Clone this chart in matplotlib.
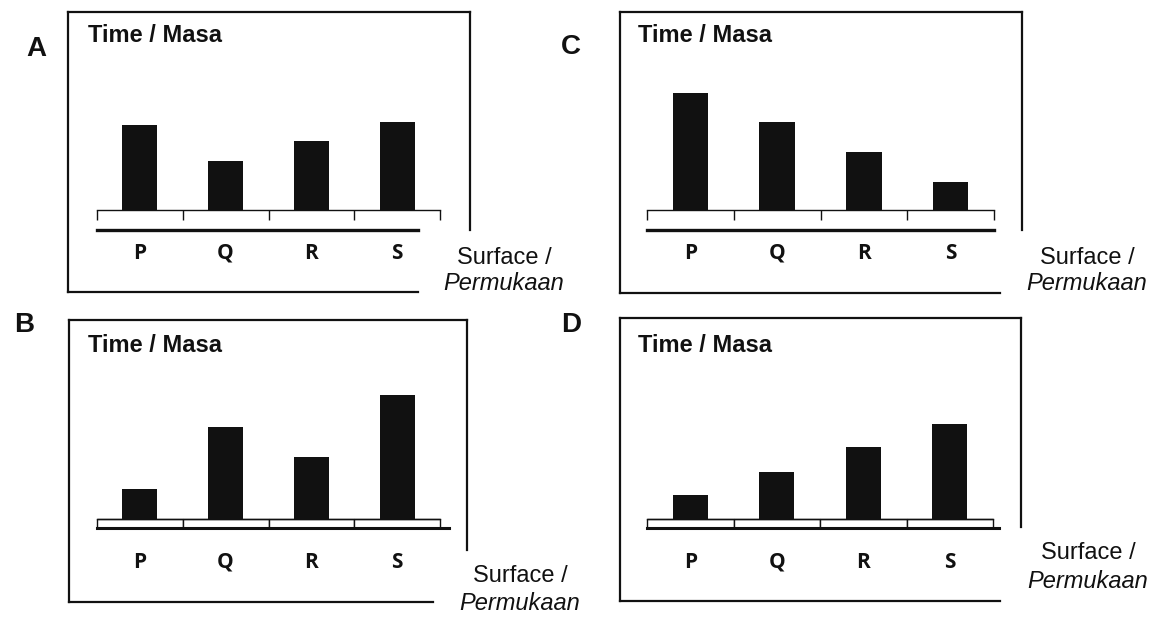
import numpy as np
import matplotlib
matplotlib.use("Agg")
import matplotlib.pyplot as plt

W, H = 1165, 617

categories = ["P", "Q", "R", "S"]
panel_names = ["A", "C", "B", "D"]
time_a = [85, 49, 69, 88]
time_c = [117, 88, 58, 28]
time_b = [30, 92, 62, 124]
time_d = [24, 47, 72, 95]
title_text = "Time / Masa"
xlabel_1 = "Surface /"
xlabel_2 = "Permukaan"

ink = "#111111"

fig = plt.figure(figsize=(W / 100, H / 100), dpi=100)
fig.patch.set_facecolor("white")

# background axes in pixel units for frames and free text
bg = fig.add_axes([0, 0, 1, 1])
bg.set_xlim(0, W)
bg.set_ylim(H, 0)
bg.axis("off")

# layout of each panel (pixels): frame box, strip, baseline, label spots
panels = {
    "A": dict(vals=time_a, box=(68, 12, 470, 292), bot_end=418, right_end=230,
              strip=(97, 440), base=210, closed=False, line_end=0.936,
              letter=(36, 49), title=(88, 36), cat_y=253,
              lab=(504, 258, 284)),
    "C": dict(vals=time_c, box=(620, 12, 1022, 293), bot_end=1000, right_end=230,
              strip=(647, 994), base=210, closed=False, line_end=1.0,
              letter=(571, 47), title=(638, 36), cat_y=253,
              lab=(1087, 258, 284)),
    "B": dict(vals=time_b, box=(69, 320, 467, 602), bot_end=433, right_end=550,
              strip=(97, 440), base=519, closed=True, line_end=1.026,
              letter=(24, 325), title=(88, 346), cat_y=562,
              lab=(520, 576, 603)),
    "D": dict(vals=time_d, box=(620, 318, 1021, 601), bot_end=1000, right_end=527,
              strip=(647, 993), base=519, closed=True, line_end=1.017,
              letter=(571, 325), title=(638, 346), cat_y=562,
              lab=(1088, 553, 581)),
}

for name in panel_names:
    p = panels[name]
    x0, y0, x1, y1 = p["box"]

    # open frame (bottom-right corner left open for the axis label)
    bg.plot([x0, x1], [y0, y0], color=ink, lw=1.6)
    bg.plot([x0, x0], [y0, y1], color=ink, lw=1.6)
    bg.plot([x0, p["bot_end"]], [y1, y1], color=ink, lw=1.6)
    bg.plot([x1, x1], [y0, p["right_end"]], color=ink, lw=1.6)

    bg.text(p["letter"][0], p["letter"][1], name, fontsize=20, fontweight="bold",
            family="Liberation Sans", color=ink, ha="center", va="center")
    bg.text(p["title"][0], p["title"][1], title_text, fontsize=17, fontweight="bold",
            family="Liberation Sans", color=ink, ha="left", va="center")
    bg.text(p["lab"][0], p["lab"][1], xlabel_1, fontsize=17, family="Liberation Sans",
            color=ink, ha="center", va="center")
    bg.text(p["lab"][0], p["lab"][2], xlabel_2, fontsize=17, family="Liberation Sans",
            style="italic", color=ink, ha="center", va="center")

    # bar axes: one data unit = one pixel vertically
    sl, sr = p["strip"]
    base = p["base"]
    ax = fig.add_axes([sl / W, 1 - base / H, (sr - sl) / W, (base - y0) / H])
    ax.set_xlim(-0.5, 3.5)
    ax.set_ylim(0, base - y0)
    ax.patch.set_alpha(0)
    for s in ["top", "right", "left"]:
        ax.spines[s].set_visible(False)
    ax.spines["bottom"].set_linewidth(1.0)
    ax.spines["bottom"].set_color(ink)
    ax.set_yticks([])

    x = np.arange(len(categories))
    ax.bar(x, p["vals"], width=0.41, color=ink, zorder=3)

    if p["closed"]:
        ax.set_xticks([])
        ax.bar(x, -9, width=1.0, facecolor="white", edgecolor=ink, lw=1.0,
               clip_on=False)
        ax.axhline(-9, xmin=0, xmax=p["line_end"], color=ink, lw=2.2, clip_on=False)
    else:
        ax.set_xticks(np.arange(-0.5, 4, 1.0))
        ax.tick_params(axis="x", direction="out", length=7, width=1.0,
                       color=ink, labelbottom=False)
        ax.axhline(-20, xmin=0, xmax=p["line_end"], color=ink, lw=2.4, clip_on=False)

    for i, c in enumerate(categories):
        ax.text(i, base - p["cat_y"], c, fontsize=15, fontweight="bold",
                family="Open Sans", color=ink, ha="center", va="center",
                clip_on=False)

fig.savefig("out.png", dpi=100, facecolor="white")
